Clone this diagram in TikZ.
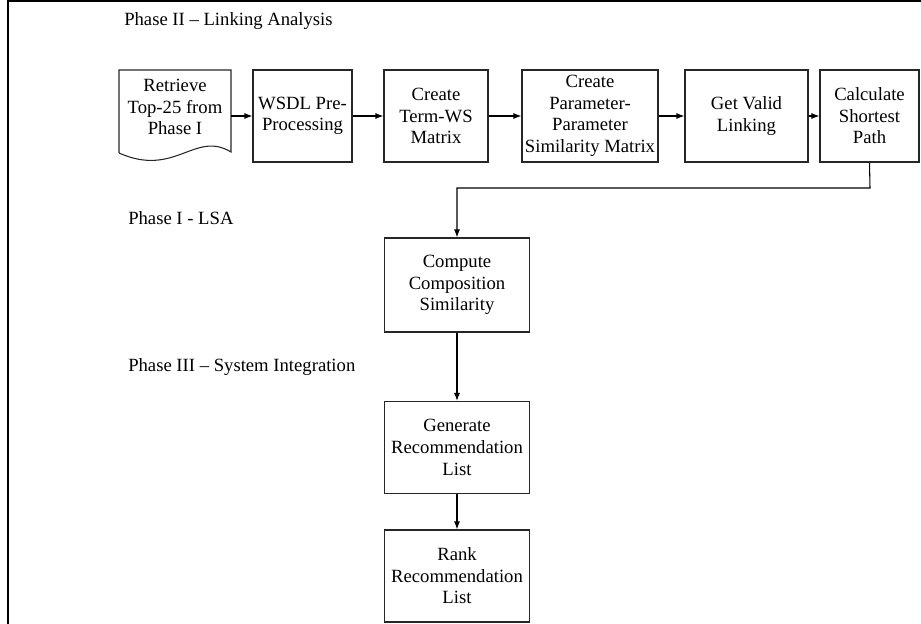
\documentclass[tikz,border=0pt]{standalone}
\usepackage{fontspec}
\setmainfont{Liberation Serif}
\usetikzlibrary{arrows.meta}
\begin{document}
\begin{tikzpicture}[x=0.75pt,y=-0.75pt,
  box/.style={draw=black!85,line width=0.8pt,align=center,inner sep=0pt,
    minimum height=69pt,font=\fontsize{14}{16.2}\selectfont},
  lbl/.style={anchor=west,inner sep=0pt,font=\fontsize{14}{16.2}\selectfont},
  arr/.style={-{Latex[length=6pt,width=4.5pt]},line width=0.8pt}]
\useasboundingbox (0,0) rectangle (921,624);
\draw[line width=1.6pt] (8,624) -- (8,1) -- (921,1);
\node[lbl] (t2) at (124,21) {Phase II -- Linking Analysis};
\node[lbl] (t1) at (128,218) {Phase I - LSA};
\node[lbl] (t3) at (128,367) {Phase III -- System Integration};
% document shape
\node[inner sep=0pt,minimum width=84pt,minimum height=69pt] (ret) at (175,116) {};
\draw[draw=black!85,line width=0.8pt] (119,153) -- (119,70) -- (231,70) -- (231,152)
  .. controls (195,130) and (175,178) .. (119,153);
\node[align=center,inner sep=0pt,font=\fontsize{14}{16.2}\selectfont] (rett) at (175,107) {Retrieve\\Top-25 from\\Phase I};
\node[box,minimum width=74.25pt] (wsdl) at (302.5,116) {WSDL Pre-\\Processing};
\node[box,minimum width=78pt] (term) at (436,116) {Create\\Term-WS\\Matrix};
\node[box,minimum width=102pt] (param) at (590,116) {Create\\Parameter-\\Parameter\\Similarity Matrix};
\node[box,minimum width=92.25pt] (valid) at (746.5,116) {Get Valid\\Linking};
\node[box,minimum width=74.25pt] (calc) at (869.5,116) {Calculate\\Shortest\\Path};
\node[box,minimum width=109pt,minimum height=70.5pt] (comp) at (457,285) {Compute\\Composition\\Similarity};
\node[box,minimum width=109pt] (gen) at (457,447.5) {Generate\\Recommendation\\List};
\node[box,minimum width=109pt] (rank) at (457,576) {Rank\\Recommendation\\List};
\coordinate (bend) at (870,188);
\draw[arr] (ret.east) -- (wsdl.west);
\draw[arr] (wsdl) -- (term);
\draw[arr] (term) -- (param);
\draw[arr] (param) -- (valid);
\draw[arr] (valid) -- (calc);
\draw[arr] (calc.south) -- (bend) -| (comp.north);
\draw[arr] (comp) -- (gen);
\draw[arr] (gen) -- (rank);
\end{tikzpicture}
\end{document}
